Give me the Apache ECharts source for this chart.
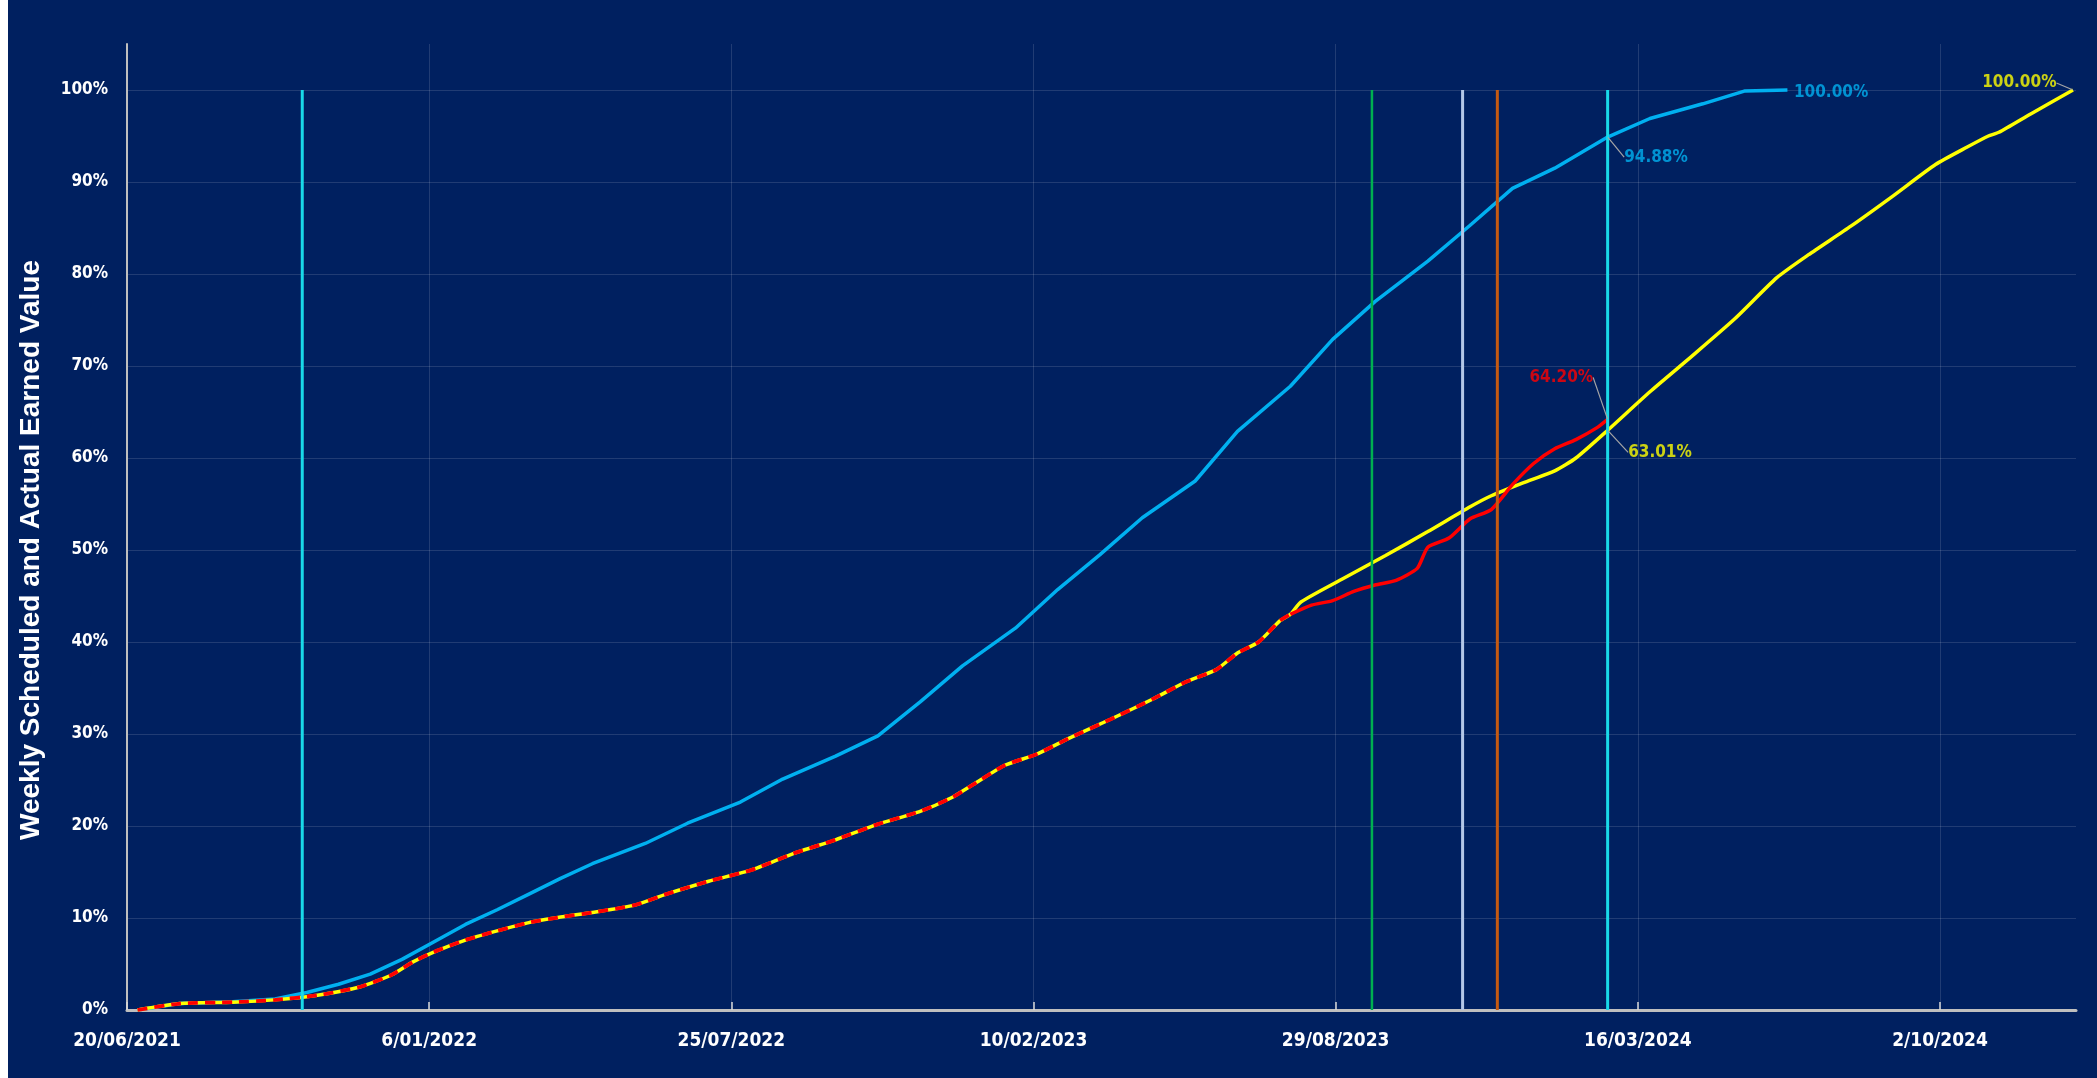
<!DOCTYPE html>
<html>
<head>
<meta charset="utf-8">
<script src="https://cdn.jsdelivr.net/npm/echarts@6/dist/echarts.min.js"></script>
<style>
  html, body { margin: 0; padding: 0; background: #fff; }
  #chart { position: absolute; left: 8px; top: 0; width: 2089px; height: 1078px; background: #002060; }
</style>
</head>
<body>
<div id="chart"></div>
<script>
// axis range and status date
const startDate = '2021-06-20'
const endDate = '2024-12-31'
const statusDate = '2024-02-25'

// baseline (scheduled) earned value, %
const baselineDates = ['2021-06-27', '2021-07-25', '2021-08-29', '2021-09-26', '2021-10-17', '2021-11-07', '2021-11-28', '2021-12-19',
  '2022-01-09', '2022-01-30', '2022-02-20', '2022-03-13', '2022-04-03', '2022-04-24', '2022-05-29', '2022-06-26', '2022-07-31',
  '2022-08-28', '2022-10-02', '2022-10-30', '2022-11-27', '2022-12-25', '2023-01-29', '2023-02-26', '2023-03-26', '2023-04-23',
  '2023-05-28', '2023-06-25', '2023-07-30', '2023-08-27', '2023-09-24', '2023-10-29', '2023-11-26', '2023-12-24', '2024-01-21',
  '2024-02-25', '2024-03-24', '2024-04-28', '2024-05-26', '2024-06-23']
const baselineValues = [0, 0.7, 0.9, 1.2, 1.9, 2.8, 3.9, 5.5,
  7.4, 9.3, 10.9, 12.6, 14.3, 15.9, 18.1, 20.3, 22.6,
  25.1, 27.6, 29.8, 33.5, 37.4, 41.5, 45.7, 49.5, 53.5,
  57.5, 62.9, 67.8, 72.9, 77.0, 81.4, 85.3, 89.3, 91.5,
  94.88, 96.9, 98.5, 99.9, 100]

// actual = forecast up to the split
const sharedDates = ['2021-06-27', '2021-07-25', '2021-08-29', '2021-09-26', '2021-10-24', '2021-11-21', '2021-12-12', '2021-12-26',
  '2022-01-09', '2022-01-30', '2022-02-20', '2022-03-13', '2022-04-03', '2022-04-24', '2022-05-22', '2022-06-12', '2022-07-10',
  '2022-08-07', '2022-09-04', '2022-10-02', '2022-10-30', '2022-11-27', '2022-12-18', '2023-01-01', '2023-01-22', '2023-02-12',
  '2023-03-05', '2023-04-02', '2023-04-30', '2023-05-21', '2023-06-11', '2023-06-25', '2023-07-09', '2023-07-23', '2023-07-30']
const sharedValues = [0, 0.7, 0.85, 1.1, 1.6, 2.5, 3.8, 5.2,
  6.3, 7.6, 8.6, 9.5, 10.1, 10.6, 11.4, 12.6, 14.0,
  15.2, 17.0, 18.5, 20.2, 21.6, 23.1, 24.5, 26.6, 27.8,
  29.5, 31.6, 33.8, 35.6, 37.0, 38.8, 40.0, 42.3, 43.0]

// actual earned value after the split
const actualDates = ['2023-08-13', '2023-08-27', '2023-09-10', '2023-09-24', '2023-10-08', '2023-10-22', '2023-10-29', '2023-11-12',
  '2023-11-26', '2023-12-10', '2023-12-24', '2024-01-07', '2024-01-21', '2024-02-04', '2024-02-18', '2024-02-25']
const actualValues = [44.0, 44.5, 45.5, 46.2, 46.7, 48.0, 50.3, 51.3,
  53.4, 54.4, 57.1, 59.4, 61.0, 62.0, 63.3, 64.2]

// forecast after the split
const forecastDates = ['2023-08-06', '2023-09-03', '2023-10-01', '2023-10-29', '2023-11-26', '2023-12-10', '2023-12-31', '2024-01-21',
  '2024-02-04', '2024-02-25', '2024-03-24', '2024-04-21', '2024-05-19', '2024-06-16', '2024-07-07', '2024-08-04', '2024-09-01',
  '2024-09-29', '2024-10-20', '2024-11-03', '2024-11-10', '2024-12-01', '2024-12-29']
const forecastValues = [44.35, 46.9, 49.4, 52.0, 54.7, 55.9, 57.3, 58.6,
  60.0, 63.01, 67.2, 71.1, 75.1, 79.6, 82.1, 85.2, 88.5,
  91.9, 93.8, 95.0, 95.4, 97.4, 100]

// vertical milestone lines
const markerDates = ['2021-10-14', '2023-09-22', '2023-11-21', '2023-12-14', '2024-02-25']

const DAY = 86400000
const t0 = Date.parse(startDate)
const toDay = s => Math.round((Date.parse(s) - t0) / DAY)
const fmtDate = d => {
  const dt = new Date(t0 + d * DAY)
  return dt.getUTCDate() + '/' + String(dt.getUTCMonth() + 1).padStart(2, '0') + '/' + dt.getUTCFullYear()
}
const pts = (dates, vals) => dates.map((s, i) => [toDay(s), vals[i]])
const valueAt = (dates, vals, s) => vals[dates.indexOf(s)]

const NARROW = '"Liberation Sans Narrow", "DejaVu Sans Condensed", sans-serif'
const BLUE = '#00b0f0', YELLOW = '#ffff00', RED = '#ff0000'
const markerStyles = [
  { color: '#19d9e8', width: 3 },
  { color: '#00b050', width: 2.5 },
  { color: '#b4c7e7', width: 3 },
  { color: '#c55a11', width: 3 },
  { color: '#19d9e8', width: 3 }
]

const sharedPts = pts(sharedDates, sharedValues)
const lastShared = sharedPts[sharedPts.length - 1]

// value tag with optional leader line
function tag(date, value, color, position, dx, dy, showLine) {
  return {
    type: 'scatter',
    silent: true,
    z: 10,
    symbolSize: 1,
    itemStyle: { color: 'rgba(0,0,0,0)' },
    data: [[toDay(date), value]],
    label: {
      show: true,
      position: position,
      distance: 4,
      formatter: value.toFixed(2) + '%',
      color: color,
      fontFamily: NARROW,
      fontWeight: 'bold',
      fontSize: 17
    },
    labelLayout: { dx: dx, dy: dy },
    labelLine: { show: showLine, lineStyle: { color: '#a6a6a6', width: 1.2 } }
  }
}

const series = [
  {
    name: 'Baseline', type: 'line', showSymbol: false, z: 3,
    data: pts(baselineDates, baselineValues),
    lineStyle: { color: BLUE, width: 3.5 }
  },
  {
    name: 'Forecast', type: 'line', showSymbol: false, z: 3, smooth: 0.2,
    data: sharedPts.concat(pts(forecastDates, forecastValues)),
    lineStyle: { color: YELLOW, width: 3.5 }
  },
  {
    name: 'Actual (shared)', type: 'line', showSymbol: false, z: 4, smooth: 0.2,
    data: sharedPts,
    lineStyle: { color: RED, width: 3.8, type: [10, 7] }
  },
  {
    name: 'Actual', type: 'line', showSymbol: false, z: 4, smooth: 0.2,
    data: [lastShared].concat(pts(actualDates, actualValues)),
    lineStyle: { color: RED, width: 3.5 }
  }
]

markerDates.forEach((d, i) => {
  series.push({
    type: 'line', silent: true, showSymbol: false, z: 6,
    data: [[toDay(d), 0], [toDay(d), 100]],
    lineStyle: markerStyles[i]
  })
})

series.push(
  tag(statusDate, valueAt(baselineDates, baselineValues, statusDate), BLUE, 'right', 12, 20, true),
  tag(baselineDates[baselineDates.length - 1], baselineValues[baselineValues.length - 1], BLUE, 'right', 2, 3, false),
  tag(statusDate, valueAt(forecastDates, forecastValues, statusDate), YELLOW, 'right', 16, 22, true),
  tag(statusDate, actualValues[actualValues.length - 1], RED, 'left', -10, -42, true),
  tag(forecastDates[forecastDates.length - 1], forecastValues[forecastValues.length - 1], YELLOW, 'left', -12, -7, true)
)

const chart = echarts.init(document.getElementById('chart'))
chart.setOption({
  backgroundColor: '#002060',
  animation: false,
  grid: { left: 119, right: 21, top: 44, bottom: 68 },
  xAxis: {
    type: 'value',
    min: 0,
    max: toDay(endDate),
    interval: 200,
    axisLine: { lineStyle: { color: '#bfbfbf', width: 3 } },
    axisTick: { inside: true, length: 8, lineStyle: { color: '#d9d9d9', width: 1.5 } },
    axisLabel: {
      color: '#ffffff',
      fontFamily: NARROW,
      fontWeight: 'bold',
      fontSize: 19,
      margin: 22,
      showMaxLabel: false,
      formatter: v => (v % 200 === 0 ? fmtDate(v) : '')
    },
    splitLine: { show: true, showMaxLine: false, lineStyle: { color: 'rgba(255,255,255,0.13)', width: 1 } }
  },
  yAxis: {
    type: 'value',
    min: 0,
    max: 105,
    interval: 10,
    name: 'Weekly Scheduled and Actual Earned Value',
    nameLocation: 'middle',
    nameGap: 82,
    nameTextStyle: {
      color: '#ffffff', fontFamily: '"Liberation Sans", Arial, sans-serif', fontWeight: 'bold', fontSize: 28,
      padding: [0, 46, 0, 0]
    },
    axisLine: { show: true, lineStyle: { color: '#bfbfbf', width: 2 } },
    axisTick: { show: false },
    axisLabel: {
      color: '#ffffff',
      fontFamily: '"DejaVu Sans Condensed", "DejaVu Sans", sans-serif',
      fontWeight: 'bold',
      fontSize: 17,
      margin: 19,
      formatter: v => (v > 100 ? '' : v + '%')
    },
    splitLine: { show: true, showMaxLine: false, lineStyle: { color: 'rgba(255,255,255,0.13)', width: 1 } }
  },
  series: series
})
</script>
</body>
</html>
